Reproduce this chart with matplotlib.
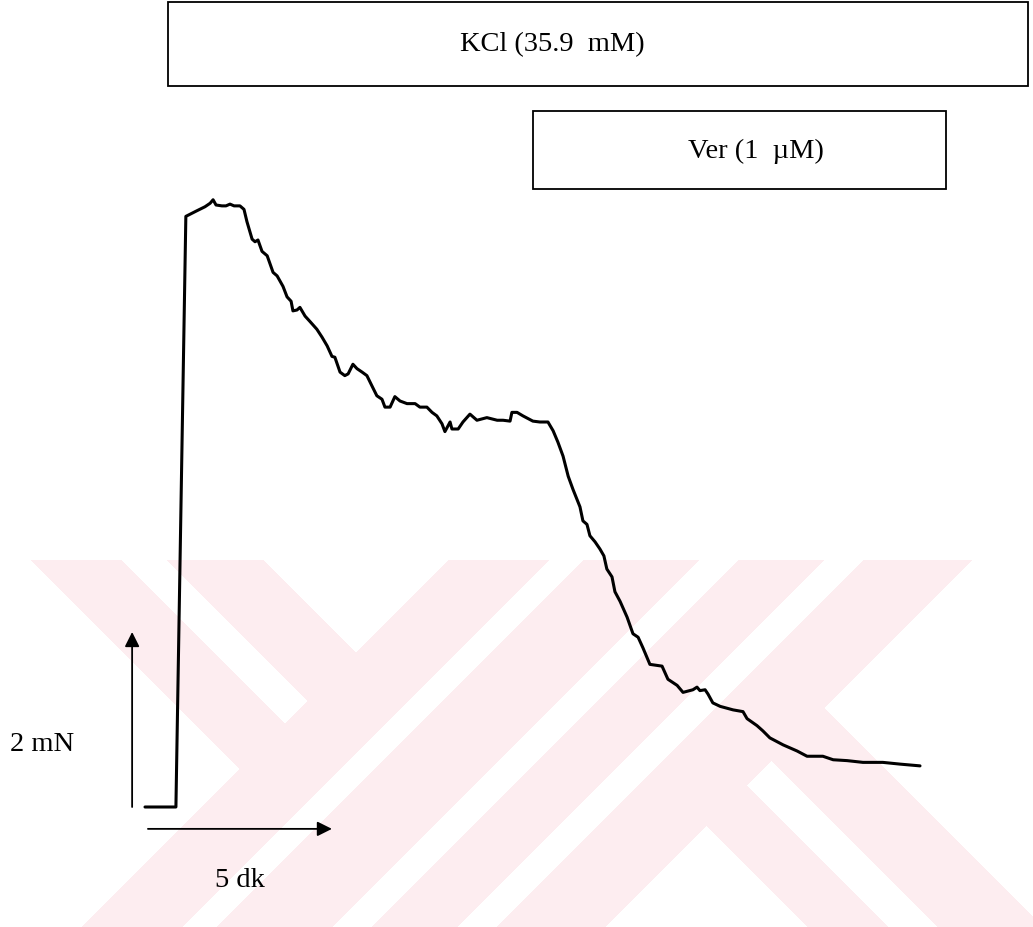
import numpy as np
import matplotlib
matplotlib.use("Agg")
import matplotlib.pyplot as plt
from matplotlib.patches import Rectangle

# ---- isometric tension trace (time in min, force in mN above baseline) ----
time_min = [0.00, 0.84, 1.11, 1.39, 1.63, 1.77, 1.85, 1.93, 2.09, 2.20,
            2.31, 2.42, 2.58, 2.69, 2.77, 2.91, 2.99, 3.07, 3.18, 3.32,
            3.48, 3.59, 3.75, 3.86, 3.97, 4.02, 4.13, 4.21, 4.35, 4.48,
            4.67, 4.81, 4.95, 5.08, 5.16, 5.30, 5.43, 5.52, 5.65, 5.76,
            5.90, 6.03, 6.17, 6.30, 6.44, 6.52, 6.66, 6.79, 6.93, 7.12,
            7.34, 7.47, 7.66, 7.80, 7.93, 8.07, 8.15, 8.29, 8.34, 8.51,
            8.64, 8.83, 9.02, 9.29, 9.57, 9.73, 9.92, 9.97, 10.11, 10.27,
            10.54, 10.73, 10.95, 11.09, 11.22, 11.36, 11.50, 11.63, 11.82, 11.90,
            12.01, 12.09, 12.23, 12.36, 12.47, 12.55, 12.69, 12.77, 12.91, 13.10,
            13.26, 13.40, 13.53, 13.72, 14.05, 14.21, 14.46, 14.62, 14.89, 15.00,
            15.08, 15.22, 15.30, 15.43, 15.63, 15.98, 16.25, 16.36, 16.63, 16.79,
            16.98, 17.34, 17.72, 17.99, 18.42, 18.70, 19.08, 19.51, 20.05, 20.52,
            21.06]
force_mN = [0.00, 0.00, 6.75, 6.81, 6.86, 6.90, 6.94, 6.88, 6.87, 6.87,
            6.89, 6.87, 6.87, 6.83, 6.69, 6.49, 6.46, 6.48, 6.35, 6.30,
            6.11, 6.07, 5.95, 5.83, 5.78, 5.67, 5.68, 5.71, 5.61, 5.55,
            5.46, 5.37, 5.27, 5.15, 5.14, 4.97, 4.93, 4.95, 5.06, 5.01,
            4.97, 4.93, 4.81, 4.70, 4.66, 4.57, 4.57, 4.69, 4.64, 4.61,
            4.61, 4.57, 4.57, 4.51, 4.47, 4.38, 4.29, 4.40, 4.32, 4.32,
            4.40, 4.49, 4.42, 4.45, 4.42, 4.42, 4.41, 4.51, 4.51, 4.47,
            4.41, 4.40, 4.40, 4.30, 4.17, 4.01, 3.78, 3.63, 3.43, 3.27,
            3.23, 3.10, 3.03, 2.95, 2.87, 2.72, 2.63, 2.46, 2.35, 2.17,
            1.98, 1.94, 1.82, 1.63, 1.61, 1.46, 1.39, 1.31, 1.34, 1.37,
            1.33, 1.34, 1.29, 1.19, 1.15, 1.11, 1.09, 1.01, 0.93, 0.87,
            0.79, 0.71, 0.64, 0.58, 0.58, 0.54, 0.53, 0.51, 0.51, 0.49,
            0.47]

# drug application periods (min) and labels
kcl_label = "KCl (35.9  mM)"
ver_label = "Ver (1  µM)"
kcl_period = (0.62, 24.0)
ver_period = (10.54, 21.77)

# calibration bars
force_bar_mN = 2
time_bar_min = 5
force_bar_label = "2 mN"
time_bar_label = "5 dk"

# ---- figure layout ----
W, H = 1033, 928
PX_PER_MIN = 36.8
PX_PER_MN = 87.5
X0_PX, Y0_PX = 145, 808          # pixel position of t=0, F=0

fig = plt.figure(figsize=(W / 100, H / 100), dpi=100)
fig.patch.set_facecolor("white")

# faint striped emblem in the lower part of the page
ax_bg = fig.add_axes([0, 0, 1, 1], zorder=0)
yy, xx = np.mgrid[0:H, 0:W] + 0.5
u = xx + yy
v = xx - yy
stroke = (u >= 1010) & (u <= 1533)
for lo, hi in [(1110, 1145), (1260, 1300), (1385, 1425)]:
    stroke &= ~((u > lo) & (u < hi))
arm_left = (u < 1010) & (v >= -530) & (v <= -298) & ~((v > -440) & (v < -394))
arm_right = (u > 1533) & (v >= -120) & (v <= 115) & ~((v > -40) & (v < 10))
emblem = (yy >= 561) & (stroke | arm_left | arm_right)
rgba = np.ones((H, W, 4))
pink = np.array([253, 237, 240]) / 255.0
rgba[emblem, :3] = pink
ax_bg.imshow(rgba, extent=[0, W, H, 0], interpolation="bilinear")
ax_bg.set_xlim(0, W)
ax_bg.set_ylim(H, 0)
ax_bg.axis("off")

ax = fig.add_axes([0, 0, 1, 1], zorder=1)
ax.patch.set_alpha(0)
ax.set_xlim(-X0_PX / PX_PER_MIN, (W - X0_PX) / PX_PER_MIN)
ax.set_ylim((Y0_PX - H) / PX_PER_MN, Y0_PX / PX_PER_MN)
ax.axis("off")

serif = "Liberation Serif"
fs = 20.5

# trace
ax.plot(time_min, force_mN, color="black", lw=2.2, solid_joinstyle="round",
        solid_capstyle="round")

# application boxes
def period_box(period, y_bottom, y_top, label, text_x):
    ax.add_patch(Rectangle((period[0], y_bottom), period[1] - period[0],
                           y_top - y_bottom, fill=False, lw=1.3,
                           edgecolor="black"))
    ax.text(text_x, (y_bottom + y_top) / 2, label, ha="center", va="center",
            fontsize=fs, family=serif)

period_box(kcl_period, 8.24, 9.20, kcl_label, 11.06)
period_box(ver_period, 7.06, 7.95, ver_label, 16.6)

# calibration arrows
arrow = dict(arrowstyle="-|>", lw=1.3, color="black", mutation_scale=22,
             shrinkA=0, shrinkB=0)
bar_x = -0.35
ax.annotate("", xy=(bar_x, force_bar_mN), xytext=(bar_x, 0), arrowprops=arrow)
ax.text(-2.80, force_bar_mN * 0.36, force_bar_label, ha="center",
        va="center", fontsize=fs, family=serif)

bar_y = -0.25
ax.annotate("", xy=(0.08 + time_bar_min, bar_y), xytext=(0.08, bar_y),
            arrowprops=arrow)
ax.text(2.58, -0.83, time_bar_label, ha="center", va="center",
        fontsize=fs, family=serif)

fig.savefig("out.png", dpi=100, facecolor="white")
